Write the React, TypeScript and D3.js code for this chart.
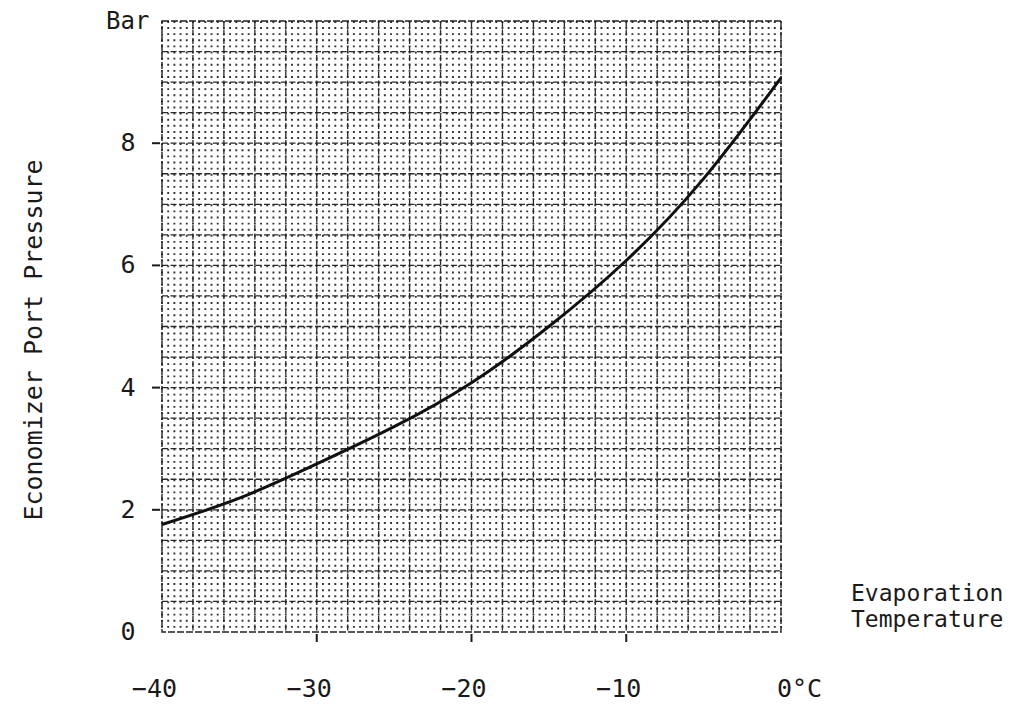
import React from "react";
import * as d3 from "d3";

const temps = [-40, -35, -30, -25, -20, -15, -10, -5, 0];
const pressures = [1.76, 2.19, 2.75, 3.36, 4.08, 5.0, 6.08, 7.42, 9.07];
const xTickValues = [-40, -30, -20, -10, 0];
const xTickLabels = ["−40", "−30", "−20", "−10", "0°C"];
const yTickValues = [0, 2, 4, 6, 8];
const yTickLabels = ["0", "2", "4", "6", "8"];

const W = 1026;
const H = 707;
const FONT = "'DejaVu Sans Mono', 'Liberation Mono', monospace";

export default function App() {
  const x = d3.scaleLinear().domain([-40, 0]).range([162, 781]);
  const y = d3.scaleLinear().domain([0, 10]).range([632, 21]);

  const minorStep = y(0) - y(0.1);
  const minorX = d3.range(-40, 0.0001, 0.4);
  const majorX = d3.range(-38, -0.0001, 2);
  const majorY = d3.range(0.5, 9.9999, 0.5);

  const line = d3
    .line<number>()
    .x((_, i) => x(temps[i]))
    .y((d) => y(d))
    .curve(d3.curveNatural);

  const ink = "#1a1a1a";

  return (
    <svg
      width={W}
      height={H}
      style={{ position: "absolute", left: 0, top: 0, background: "#fff" }}
    >
      {/* dot lattice */}
      <g stroke="#333" strokeWidth={1.9}>
        {minorX.map((t, i) => (
          <line
            key={"mx" + i}
            x1={x(t)}
            x2={x(t)}
            y1={y(10)}
            y2={y(0)}
            strokeDasharray={`1.9 ${minorStep - 1.9}`}
          />
        ))}
      </g>
      {/* dashed grid */}
      <g stroke="#2a2a2a" strokeWidth={1.3} strokeDasharray="6 2.5">
        {majorX.map((t, i) => (
          <line key={"vx" + i} x1={x(t)} x2={x(t)} y1={y(10)} y2={y(0)} />
        ))}
        {majorY.map((v, i) => (
          <line key={"hy" + i} x1={x(-40)} x2={x(0)} y1={y(v)} y2={y(v)} />
        ))}
      </g>
      {/* frame */}
      <rect
        x={x(-40)}
        y={y(10)}
        width={x(0) - x(-40)}
        height={y(0) - y(10)}
        fill="none"
        stroke="#222"
        strokeWidth={1.4}
        strokeDasharray="7 2"
      />
      {/* curve */}
      <path
        d={line(pressures) || ""}
        fill="none"
        stroke="#111"
        strokeWidth={3}
      />
      {/* ticks */}
      <g stroke={ink} strokeWidth={2}>
        {yTickValues
          .filter((v) => v > 0)
          .map((v) => (
            <line key={"yt" + v} x1={x(-40) - 10} x2={x(-40) - 2} y1={y(v)} y2={y(v)} />
          ))}
        {xTickValues
          .filter((v) => v > -40 && v < 0)
          .map((v) => (
            <line key={"xt" + v} x1={x(v)} x2={x(v)} y1={y(0) + 2} y2={y(0) + 10} />
          ))}
      </g>
      {/* y tick labels */}
      <g fontFamily={FONT} fontSize={25} fill={ink} textAnchor="middle">
        {yTickValues.map((v, i) => (
          <text key={"yl" + v} x={128} y={y(v) + 8}>
            {yTickLabels[i]}
          </text>
        ))}
      </g>
      {/* x tick labels */}
      <g fontFamily={FONT} fontSize={25} fill={ink}>
        {xTickValues.map((v, i) =>
          v < 0 ? (
            <text key={"xl" + v} x={x(v) + 15} y={697} textAnchor="end">
              {xTickLabels[i]}
            </text>
          ) : (
            <text key={"xl" + v} x={x(v) - 4} y={697} textAnchor="start">
              {xTickLabels[i]}
            </text>
          )
        )}
      </g>
      {/* unit label */}
      <text x={106} y={29} fontFamily={FONT} fontSize={24} fill={ink}>
        Bar
      </text>
      {/* axis titles */}
      <text
        transform="translate(42,340) rotate(-90)"
        textAnchor="middle"
        fontFamily={FONT}
        fontSize={25}
        fill={ink}
      >
        Economizer Port Pressure
      </text>
      <g fontFamily={FONT} fontSize={23} fill={ink}>
        <text x={851} y={601}>
          Evaporation
        </text>
        <text x={851} y={627}>
          Temperature
        </text>
      </g>
    </svg>
  );
}
